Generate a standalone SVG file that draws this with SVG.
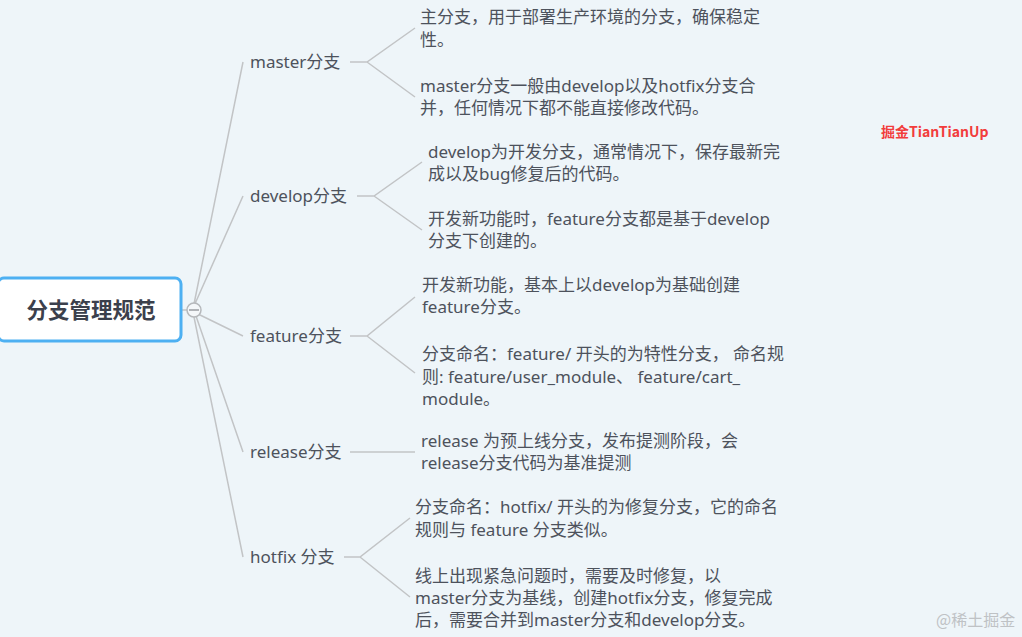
<svg xmlns="http://www.w3.org/2000/svg" width="1022" height="637" viewBox="0 0 1022 637">
<style>
.t{font-family:"Noto Sans","Noto Sans CJK SC",sans-serif;font-size:17px;fill:#4d525c}
.lbl{font-family:"Noto Sans","Noto Sans CJK SC",sans-serif;font-size:17px;fill:#4d525c}
.c{fill:none;stroke:#c2c4c6;stroke-width:1.5}
</style>
<rect x="0" y="0" width="1022" height="637" fill="#eef5f9"/>
<g id="connectors">
<path class="c" d="M194 304 L243 62 M194 306 L243 196 M198 314 L243 336 M196 316 L243 452 M194 317 L243 557"/>
<path class="c" d="M350 62 H367 L415 28 M367 62 L415 97"/>
<path class="c" d="M357 196 H374 L422 162 M374 196 L422 230"/>
<path class="c" d="M350 336 H367 L415 297 M367 336 L415 373"/>
<path class="c" d="M350 452 H415"/>
<path class="c" d="M344 557 H360 L410 518 M360 557 L410 597"/>
<path class="c" d="M182 310 H187"/>
</g>
<g id="root">
<rect x="-2" y="278" width="183" height="63" rx="6" fill="#ffffff" stroke="#4db0f2" stroke-width="3"/>
<text x="91" y="318" text-anchor="middle" font-family="Noto Sans CJK SC,sans-serif" font-size="21.5" font-weight="bold" fill="#3b404c">分支管理规范</text>
<circle cx="194" cy="310" r="7" fill="#f4f7f9" stroke="#b5b8bb" stroke-width="1.5"/>
<path d="M189 310 H199" stroke="#9a9da0" stroke-width="1.5"/>
</g>
<g id="master">
<text class="lbl" x="250" y="68">master分支</text>
</g>
<g id="master-1"><text class="t"><tspan x="420" y="23">主分支，用于部署生产环境的分支，确保稳定</tspan><tspan x="420" y="46">性。</tspan></text></g>
<g id="master-2"><text class="t"><tspan x="420" y="92">master分支一般由develop以及hotfix分支合</tspan><tspan x="420" y="114">并，任何情况下都不能直接修改代码。</tspan></text></g>
<g id="develop">
<text class="lbl" x="250" y="202">develop分支</text>
</g>
<g id="develop-1"><text class="t"><tspan x="428" y="158">develop为开发分支，通常情况下，保存最新完</tspan><tspan x="428" y="180">成以及bug修复后的代码。</tspan></text></g>
<g id="develop-2"><text class="t"><tspan x="428" y="225">开发新功能时，feature分支都是基于develop</tspan><tspan x="428" y="247">分支下创建的。</tspan></text></g>
<g id="feature">
<text class="lbl" x="250" y="342">feature分支</text>
</g>
<g id="feature-1"><text class="t"><tspan x="422" y="291">开发新功能，基本上以develop为基础创建</tspan><tspan x="422" y="313">feature分支。</tspan></text></g>
<g id="feature-2"><text class="t"><tspan x="422" y="360">分支命名：feature/ 开头的为特性分支， 命名规</tspan><tspan x="422" y="383">则: feature/user_module、 feature/cart_</tspan><tspan x="422" y="405">module。</tspan></text></g>
<g id="release">
<text class="lbl" x="250" y="458">release分支</text>
</g>
<g id="release-1"><text class="t"><tspan x="421" y="447">release 为预上线分支，发布提测阶段，会</tspan><tspan x="421" y="469">release分支代码为基准提测</tspan></text></g>
<g id="hotfix">
<text class="lbl" x="250" y="563">hotfix 分支</text>
</g>
<g id="hotfix-1"><text class="t"><tspan x="415" y="513">分支命名：hotfix/ 开头的为修复分支，它的命名</tspan><tspan x="415" y="536">规则与 feature 分支类似。</tspan></text></g>
<g id="hotfix-2"><text class="t"><tspan x="415" y="582">线上出现紧急问题时，需要及时修复，以</tspan><tspan x="415" y="604">master分支为基线，创建hotfix分支，修复完成</tspan><tspan x="415" y="626">后，需要合并到master分支和develop分支。</tspan></text></g>
<text x="881" y="137" font-family="Noto Sans CJK SC,sans-serif" font-size="14" font-weight="bold" fill="#f23c3c">掘金TianTianUp</text>
<text x="936" y="626" font-family="Noto Sans CJK SC,sans-serif" font-size="16" fill="#bfc2c5">@稀土掘金</text>
</svg>
